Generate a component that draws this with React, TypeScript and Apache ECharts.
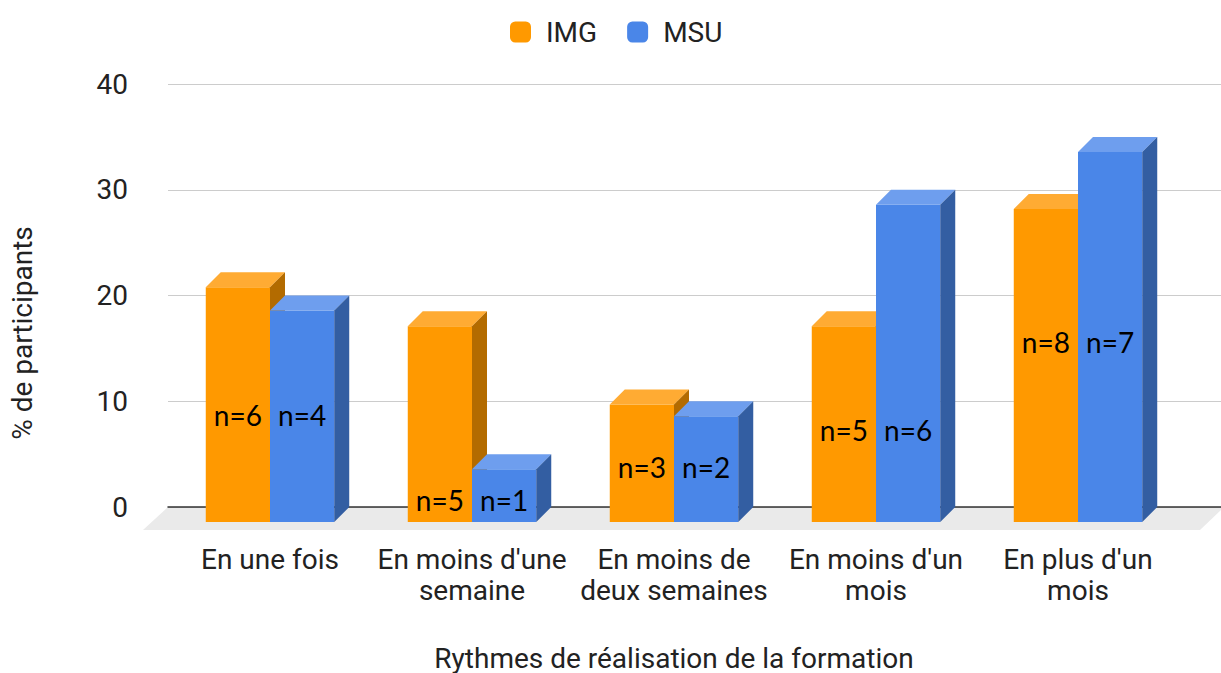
import React, { useEffect, useRef } from 'react';
import * as echarts from 'echarts';

const categories = [
  'En une fois',
  "En moins d'une\nsemaine",
  'En moins de\ndeux semaines',
  "En moins d'un\nmois",
  "En plus d'un\nmois",
];
const imgValues = [22.2, 18.5, 11.1, 18.5, 29.6];
const msuValues = [20, 5, 10, 30, 35];
const imgCounts = [6, 5, 3, 5, 8];
const msuCounts = [4, 1, 2, 6, 7];
const labelLevels = [10.1, 2.1, 5.2, 8.7, 17.0];
const yMin = 0;
const yMax = 40;
const yInterval = 10;

const DEPTH = 15;
const FONT = 'Roboto';
const TEXT = '#222';
const FS = 28;

const IMG_COLORS = { front: '#FF9900', top: '#FFAB33', side: '#B36B00' };
const MSU_COLORS = { front: '#4A86E8', top: '#6E9EEE', side: '#335EA2' };

function makeRenderItem(side: 'left' | 'right', colors: any) {
  return (params: any, api: any) => {
    const cat = api.value(0);
    const val = api.value(1);
    const level = api.value(2);
    const n = api.value(3);
    const base = api.coord([cat, 0]);
    const top = api.coord([cat, val]);
    const band = api.size([1, 0])[0];
    const w = band * 0.318;
    const x0 = side === 'left' ? base[0] - w : base[0];
    const x1 = x0 + w;
    const y0 = base[1];
    const y1 = top[1];
    const d = DEPTH;
    const lab = api.coord([cat, level]);
    return {
      type: 'group',
      children: [
        {
          type: 'rect',
          shape: { x: x0, y: y1, width: w, height: y0 - y1 },
          style: { fill: colors.front },
        },
        {
          type: 'polygon',
          shape: { points: [[x0, y1], [x0 + d, y1 - d], [x1 + d, y1 - d], [x1, y1]] },
          style: { fill: colors.top },
        },
        {
          type: 'polygon',
          shape: { points: [[x1, y1], [x1 + d, y1 - d], [x1 + d, y0 - d], [x1, y0]] },
          style: { fill: colors.side },
        },
        {
          type: 'text',
          style: {
            text: 'n=' + n,
            x: x0 + w / 2,
            y: lab[1],
            align: 'center',
            verticalAlign: 'middle',
            fontSize: 28,
            fontFamily: 'Lato',
            fill: '#000',
          },
        },
      ],
    };
  };
}

export default function App() {
  const ref = useRef<HTMLDivElement>(null);
  useEffect(() => {
    if (!ref.current) return;
    const chart = echarts.init(ref.current, null, { renderer: 'svg' });
    const imgData = imgValues.map((v, i) => [i, v, labelLevels[i], imgCounts[i]]);
    const msuData = msuValues.map((v, i) => [i, v, labelLevels[i], msuCounts[i]]);
    chart.setOption({
      animation: false,
      backgroundColor: '#fff',
      textStyle: { fontFamily: FONT },
      legend: {
        top: 18,
        left: 510,
        padding: 0,
        itemWidth: 21,
        itemHeight: 21,
        itemGap: 30,
        icon: 'roundRect',
        data: ['IMG', 'MSU'],
        textStyle: { fontSize: FS, fontFamily: FONT, color: TEXT, padding: [0, 0, 0, 10] },
      },
      graphic: [
        {
          type: 'polygon',
          z: -1,
          shape: { points: [[168, 507], [1224, 507], [1200, 530], [143, 530]] },
          style: { fill: '#EAEAEA' },
        },
        {
          type: 'text',
          x: 22,
          y: 333,
          rotation: Math.PI / 2,
          style: {
            text: '% de participants',
            align: 'center',
            verticalAlign: 'middle',
            fontSize: FS,
            fontFamily: FONT,
            fill: TEXT,
          },
        },
      ],
      grid: [
        { left: 168, right: 0, top: 84, bottom: 166, containLabel: false, outerBoundsMode: 'none' },
        { left: 169, right: 42, top: 99, bottom: 151, containLabel: false, outerBoundsMode: 'none' },
      ],
      xAxis: [
        {
          gridIndex: 0,
          type: 'value',
          min: 0,
          max: 1,
          axisLine: { show: true, lineStyle: { color: '#333', width: 1.5 } },
          axisTick: { show: false },
          axisLabel: { show: false },
          splitLine: { show: false },
        },
        {
          gridIndex: 1,
          type: 'category',
          data: categories,
          axisLine: { show: false },
          axisTick: { show: false },
          axisLabel: {
            interval: 0,
            fontSize: FS,
            fontFamily: FONT,
            color: TEXT,
            margin: 22,
            lineHeight: 31,
          },
          name: 'Rythmes de réalisation de la formation',
          nameLocation: 'middle',
          nameGap: 122,
          nameTextStyle: { fontSize: FS, fontFamily: FONT, color: TEXT, lineHeight: 28 },
        },
      ],
      yAxis: [
        {
          gridIndex: 0,
          type: 'value',
          min: yMin,
          max: yMax,
          interval: yInterval,
          axisLine: { show: false },
          axisTick: { show: false },
          axisLabel: { fontSize: FS, fontFamily: FONT, color: TEXT, margin: 40 },
          splitLine: { lineStyle: { color: '#CCCCCC', width: 1 } },
        },
        {
          gridIndex: 1,
          type: 'value',
          min: yMin,
          max: yMax,
          interval: yInterval,
          show: false,
        },
      ],
      series: [
        {
          name: 'IMG',
          type: 'custom',
          xAxisIndex: 1,
          yAxisIndex: 1,
          itemStyle: { color: IMG_COLORS.front },
          encode: { x: 0, y: 1 },
          renderItem: makeRenderItem('left', IMG_COLORS),
          data: imgData,
          clip: false,
        },
        {
          name: 'MSU',
          type: 'custom',
          xAxisIndex: 1,
          yAxisIndex: 1,
          itemStyle: { color: MSU_COLORS.front },
          encode: { x: 0, y: 1 },
          renderItem: makeRenderItem('right', MSU_COLORS),
          data: msuData,
          clip: false,
        },
      ],
    });
    return () => chart.dispose();
  }, []);
  return (
    <div
      ref={ref}
      style={{ position: 'fixed', left: 0, top: 0, width: 1221, height: 673, background: '#fff' }}
    />
  );
}
